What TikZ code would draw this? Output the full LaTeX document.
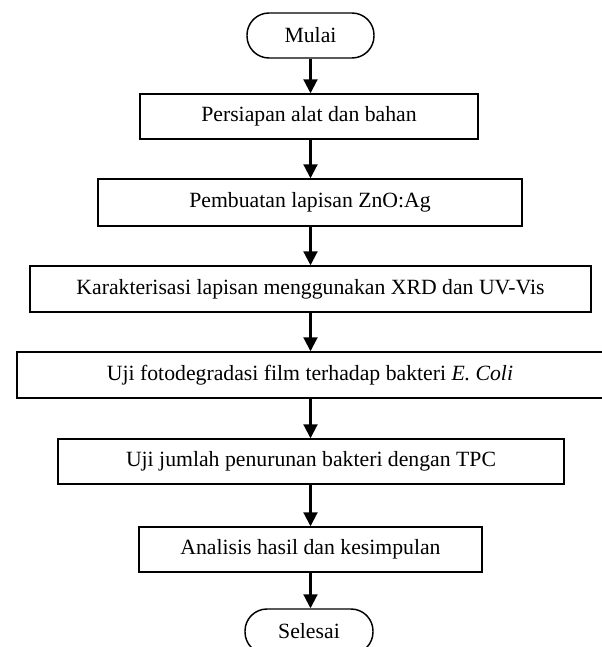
\documentclass[tikz,border=0pt]{standalone}
\usepackage{fontspec}
\setmainfont{Liberation Serif}
\usetikzlibrary{arrows.meta}
\begin{document}
\begin{tikzpicture}[x=0.75pt,y=-0.75pt,
  box/.style={draw, line width=1.1pt, rectangle, inner sep=0pt, font=\fontsize{16.3}{19}\selectfont},
  term/.style={box, rounded corners=16.5pt},
  flow/.style={line width=1.6pt, -{Triangle[length=10.5pt,width=10.5pt]}}]
\clip (0,0) rectangle (602,647);
\fill[white] (0,0) rectangle (602,647);
\node[term, minimum width=127*0.75pt, minimum height=45*0.75pt] (start) at (310.5,35.5) {Mulai};
\node[box, minimum width=338*0.75pt, minimum height=45*0.75pt] (b1) at (309,116.5) {Persiapan alat dan bahan};
\node[box, minimum width=424*0.75pt, minimum height=47*0.75pt] (b2) at (310,202.5) {Pembuatan lapisan ZnO:Ag};
\node[box, minimum width=561*0.75pt, minimum height=46*0.75pt] (b3) at (310.5,289) {Karakterisasi lapisan menggunakan XRD dan UV-Vis};
\node[box, minimum width=586*0.75pt, minimum height=46*0.75pt] (b4) at (310,375) {Uji fotodegradasi film terhadap bakteri \textit{E. Coli}};
\node[box, minimum width=506*0.75pt, minimum height=45*0.75pt] (b5) at (311,461.5) {Uji jumlah penurunan bakteri dengan TPC};
\node[box, minimum width=343*0.75pt, minimum height=45*0.75pt] (b6) at (310.5,549.5) {Analisis hasil dan kesimpulan};
\node[term, minimum width=128*0.75pt, minimum height=45*0.75pt] (end) at (309,631.5) {Selesai};
\draw[flow] (start.south) -- (start.south |- b1.north);
\draw[flow] (b1.south -| start.south) -- (start.south |- b2.north);
\draw[flow] (b2.south -| start.south) -- (start.south |- b3.north);
\draw[flow] (b3.south -| start.south) -- (start.south |- b4.north);
\draw[flow] (b4.south -| start.south) -- (start.south |- b5.north);
\draw[flow] (b5.south -| start.south) -- (start.south |- b6.north);
\draw[flow] (b6.south -| start.south) -- (start.south |- end.north);
\end{tikzpicture}
\end{document}
